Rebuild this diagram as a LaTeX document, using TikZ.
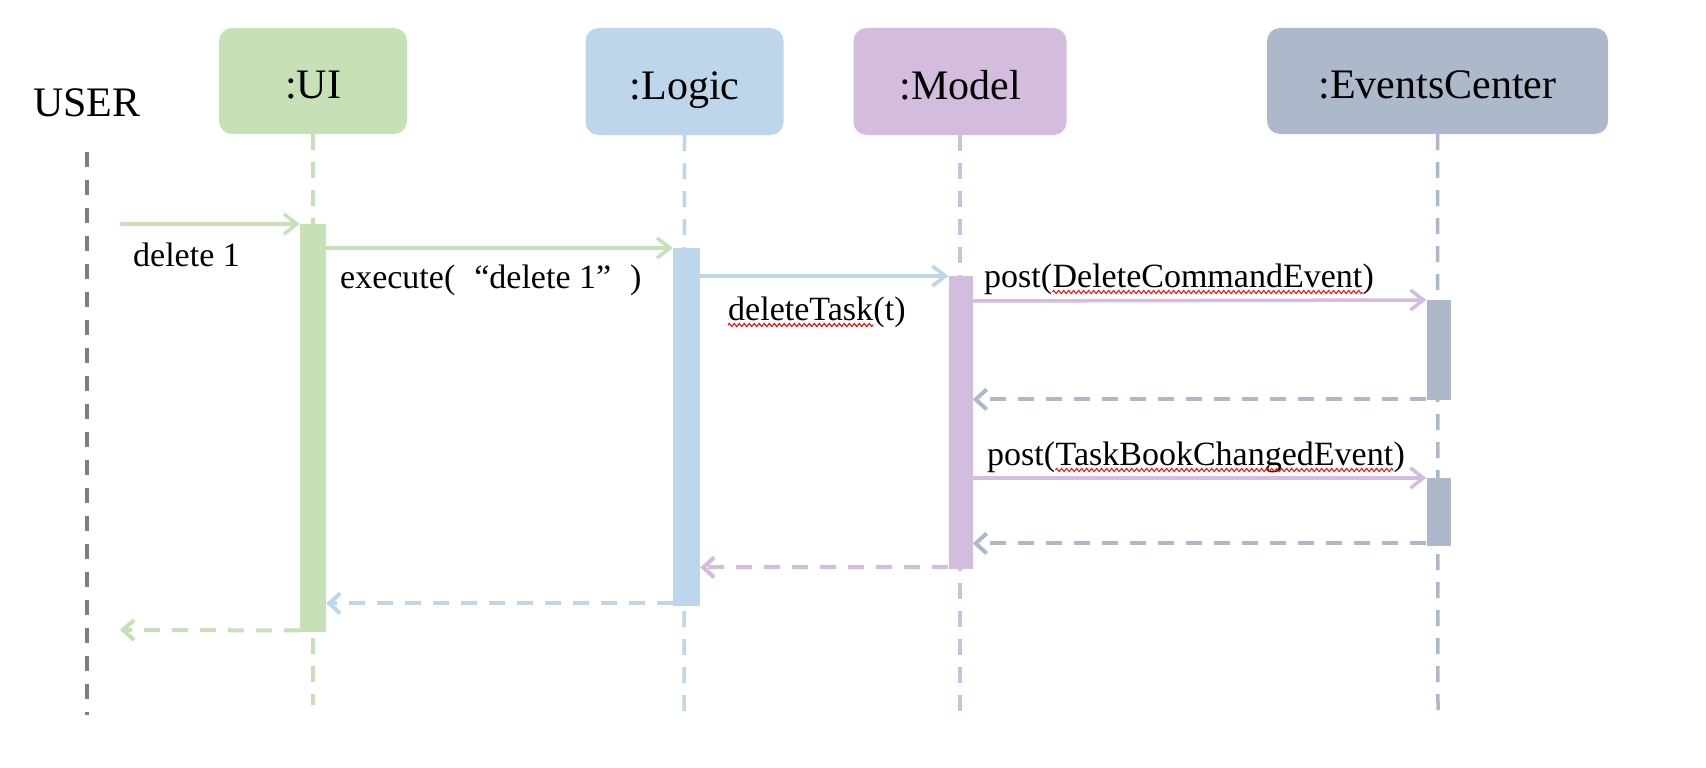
\documentclass[tikz,border=0pt]{standalone}
\usepackage{fontspec}
\setmainfont{Liberation Serif}
\usetikzlibrary{arrows.meta,decorations.pathmorphing}
\pgfdeclarelayer{bg}
\pgfsetlayers{bg,main}
\definecolor{cui}{HTML}{C8E0B8}
\definecolor{clogic}{HTML}{BED6EC}
\definecolor{cmodel}{HTML}{D4BCDE}
\definecolor{cev}{HTML}{ADB9CA}
\definecolor{cuser}{HTML}{7F7F7F}
\begin{document}
\begin{tikzpicture}[x=1pt,y=-1pt,
  hdr/.style={rounded corners=13pt, inner sep=0pt, text height=40pt, text depth=4pt,
    font=\fontsize{42}{48}\selectfont, text=black},
  life/.style={line width=3.5pt, dash pattern=on 16pt off 12pt},
  actbar/.style={inner sep=0pt, anchor=north},
  msg/.style={line width=3.5pt, -{Straight Barb[length=13pt,width=20pt]}},
  ret/.style={line width=4pt, dash pattern=on 16pt off 12pt, -{Straight Barb[length=11pt,width=20pt]}},
  lbl/.style={inner sep=0pt, font=\fontsize{34}{40}\selectfont, anchor=base west},
  squig/.style={draw=red, line width=1pt, decorate, decoration={zigzag, amplitude=1.6pt, segment length=5pt}},
]
\useasboundingbox (0,0) rectangle (1706,768);

% header boxes
\node[hdr, fill=cui, minimum width=188pt, minimum height=106pt] (ui) at (313,81) {:UI};
\node[hdr, fill=clogic, minimum width=198pt, minimum height=107pt] (logic) at (684.5,81.5) {:Logic};
\node[hdr, fill=cmodel, minimum width=213pt, minimum height=107pt] (model) at (960,81.5) {:Model};
\node[hdr, fill=cev, minimum width=341pt, minimum height=106pt] (ev) at (1437.5,81) {:EventsCenter};
\node[inner sep=0pt, anchor=base, font=\fontsize{42}{48}\selectfont] (user) at (87,117) {USER};

% activation bars
\node[actbar, fill=cui, minimum width=26pt, minimum height=408pt] (uiA) at (313,224) {};
\node[actbar, fill=clogic, minimum width=27pt, minimum height=358pt] (lgA) at (686.5,248) {};
\node[actbar, fill=cmodel, minimum width=24pt, minimum height=293pt] (mdA) at (960.5,276) {};
\node[actbar, fill=cev, minimum width=24pt, minimum height=100pt] (ec1) at (1438.5,300) {};
\node[actbar, fill=cev, minimum width=24pt, minimum height=68pt] (ec2) at (1438.5,478) {};

% lifeline ends
\coordinate (userTop) at (87,152);
\coordinate (userEnd) at (87,715);
\coordinate (uiEnd) at (313,705);
\coordinate (logicEnd) at (684,720);
\coordinate (modelEnd) at (960,715);
\coordinate (evEnd) at (1438,720);
\coordinate (uin) at (120,224);
\coordinate (uout) at (120,630);

\begin{pgfonlayer}{bg}
\fill[white] (0,0) rectangle (1706,768);
\draw[life, draw=cuser, line width=4pt, dash pattern=on 15pt off 13pt] (userTop) -- (userEnd);
\draw[life, draw=cui] (ui.south) -- (uiEnd);
\draw[life, draw=clogic] (logic.south) -- (logicEnd);
\draw[life, draw=cmodel] (model.south) -- (modelEnd);
\draw[life, draw=cev] (ev.south) -- (evEnd);
\end{pgfonlayer}

% messages
\draw[msg, draw=cui] (uin) -- (uiA.north west);
\draw[msg, draw=cui] (lgA.north west -| uiA.east) -- (lgA.north west);
\draw[msg, draw=clogic] (mdA.north west -| lgA.east) -- (mdA.north west);
\draw[msg, draw=cmodel] ([yshift=-1pt]ec1.north west -| mdA.east) -- (ec1.north west);
\draw[ret, draw=cev] ([yshift=1pt]ec1.south west) -- ([yshift=1pt]ec1.south west -| mdA.east);
\draw[msg, draw=cmodel] (ec2.north west -| mdA.east) -- (ec2.north west);
\draw[ret, draw=cev] ([yshift=3pt]ec2.south west) -- ([yshift=3pt]ec2.south west -| mdA.east);
\draw[ret, draw=cmodel] ([yshift=2pt]mdA.south west) -- ([yshift=2pt]mdA.south west -| lgA.east);
\draw[ret, draw=clogic] ([yshift=3pt]lgA.south west) -- ([yshift=3pt]lgA.south west -| uiA.east);
\draw[ret, draw=cui] ([yshift=2pt]uiA.south west) -- (uout);

% labels
\node[lbl] (l1) at (133,266) {delete 1};
\node[lbl] (l2) at (340,288) {execute(\hspace{19pt}“delete 1”\hspace{19pt})};
\node[lbl] (l3a) at (728,320) {deleteTask};
\node[lbl] (l3b) at (l3a.base east) {(t)};
\node[lbl] (l4a) at (984,287) {post(};
\node[lbl] (l4b) at (l4a.base east) {DeleteCommandEvent};
\node[lbl] (l4c) at (l4b.base east) {)};
\node[lbl] (l5a) at (987,465) {post(};
\node[lbl] (l5b) at (l5a.base east) {TaskBookChangedEvent};
\node[lbl] (l5c) at (l5b.base east) {)};

% spell-check squiggles
\draw[squig] ([yshift=-5pt]l3a.base west) -- ([yshift=-5pt]l3a.base east);
\draw[squig] ([yshift=-5pt]l4b.base west) -- ([yshift=-5pt]l4b.base east);
\draw[squig] ([yshift=-5pt]l5b.base west) -- ([yshift=-5pt]l5b.base east);
\end{tikzpicture}
\end{document}
